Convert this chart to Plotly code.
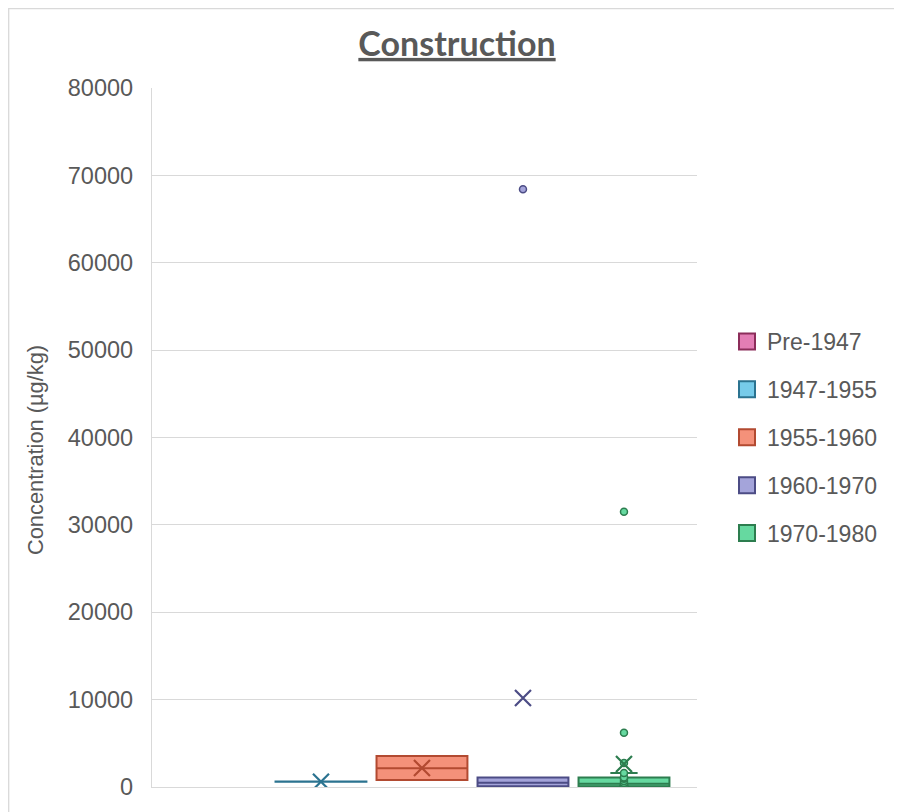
import numpy as np
import plotly.graph_objects as go

# ---- data ----
series_names = ["Pre-1947", "1947-1955", "1955-1960", "1960-1970", "1970-1980"]
vals_pre1947 = []
vals_1947_1955 = [600, 620]
vals_1955_1960 = [800, 2150, 3550]
vals_1960_1970 = [0, 100, 230, 500, 900, 1100, 68400]
vals_1970_1980 = [0, 0, 20, 50, 80, 120, 180, 230, 300, 450, 700, 950, 1050, 1080,
                  1600, 2750, 6200, 31500]
y_ticks = [0, 10000, 20000, 30000, 40000, 50000, 60000, 70000, 80000]

all_vals = [vals_pre1947, vals_1947_1955, vals_1955_1960, vals_1960_1970, vals_1970_1980]

# ---- styles ----
fill_colors = ["#E37DB4", "#76CBEA", "#F4917A", "#A4A4DA", "#66D9A0"]
line_colors = ["#8C2D5A", "#2B7390", "#B24A31", "#4C4C85", "#2D7D4F"]
point_modes = [False, False, False, "outliers", "all"]
TXT = "#595959"
GRID = "#D9D9D9"

# page has an 8px body margin: work in figure coordinates = page - 8
OFF = 8
W, H = 902 - OFF, 812 - OFF
L, R, T, B = 152 - OFF, 697 - OFF, 88 - OFF, 787 - OFF
pw, ph = R - L, B - T

def px(xpage):
    return (xpage - OFF - L) / pw

def py(ypage):
    return (B - (ypage - OFF)) / ph

fig = go.Figure()
for name, vals, fc, lc, pm in zip(series_names, all_vals, fill_colors, line_colors, point_modes):
    if len(vals):
        fig.add_trace(go.Box(
            name=name,
            x=[name] * len(vals),
            y=vals,
            fillcolor=fc,
            line=dict(color=lc, width=2),
            marker=dict(color=fc, size=7, line=dict(color=lc, width=1.5)),
            boxpoints=pm,
            jitter=0,
            pointpos=0,
            width=0.9,
            whiskerwidth=0.3,
            quartilemethod="exclusive",
            showlegend=False,
            hoverinfo="y",
        ))

# legend entries (square swatches like the original)
for name, fc, lc in zip(series_names, fill_colors, line_colors):
    fig.add_trace(go.Scatter(
        x=[None], y=[None], mode="markers", name=name,
        legendgroup=name, showlegend=True,
        marker=dict(symbol="square", size=16, color=fc, line=dict(color=lc, width=2)),
    ))

# mean markers (X), computed from the data
mean_x = [n for n, v in zip(series_names, all_vals) if len(v)]
mean_y = [float(np.mean(v)) for v in all_vals if len(v)]
mean_c = [c for c, v in zip(line_colors, all_vals) if len(v)]
fig.add_trace(go.Scatter(
    x=mean_x, y=mean_y, mode="markers", showlegend=False,
    marker=dict(symbol="x-thin", size=16, color=mean_c,
                line=dict(color=mean_c, width=2.2)),
    hoverinfo="y",
))

fig.update_layout(
    width=W, height=H,
    margin=dict(l=L, r=W - R, t=T, b=H - B, pad=0),
    paper_bgcolor="white", plot_bgcolor="white",
    font=dict(family="Liberation Sans, Arial, sans-serif", color=TXT),
    title=dict(
        text="<b><u>Construction</u></b>",
        x=(457 - OFF) / W, xref="container", xanchor="center",
        y=1 - (44 - OFF) / H, yref="container", yanchor="middle",
        font=dict(family="Lato, Liberation Sans, sans-serif", size=34, color=TXT),
    ),
    boxmode="overlay",
    showlegend=True,
    legend=dict(
        x=px(727), y=py(320), xanchor="left", yanchor="top",
        xref="paper", yref="paper",
        font=dict(size=23, color=TXT),
        tracegroupgap=15,
        bgcolor="rgba(0,0,0,0)",
    ),
    xaxis=dict(
        type="category",
        categoryorder="array", categoryarray=series_names,
        range=[-0.673, 4.723],
        showticklabels=False, showgrid=False, zeroline=False,
        showline=True, linecolor=GRID, linewidth=1,
        ticks="",
    ),
    yaxis=dict(
        range=[0, 80000],
        tickvals=y_ticks,
        tickformat="d",
        showgrid=True, gridcolor=GRID, gridwidth=1.3,
        zeroline=False,
        showline=True, linecolor=GRID, linewidth=1.3,
        ticks="", ticklabelstandoff=13,
        tickfont=dict(size=23.5, color=TXT),
    ),
    annotations=[dict(
        text="Concentration (µg/kg)", textangle=-90,
        xref="paper", yref="paper", x=px(35), y=py(450),
        xanchor="center", yanchor="middle", showarrow=False,
        font=dict(size=21.8, color=TXT),
    )],
    shapes=[dict(
        type="rect", xref="paper", yref="paper",
        x0=px(8.7), x1=px(930), y0=py(840), y1=py(8.7),
        line=dict(color=GRID, width=1.3), fillcolor="rgba(0,0,0,0)",
        layer="below",
    )],
)

fig.write_html("out.html")
